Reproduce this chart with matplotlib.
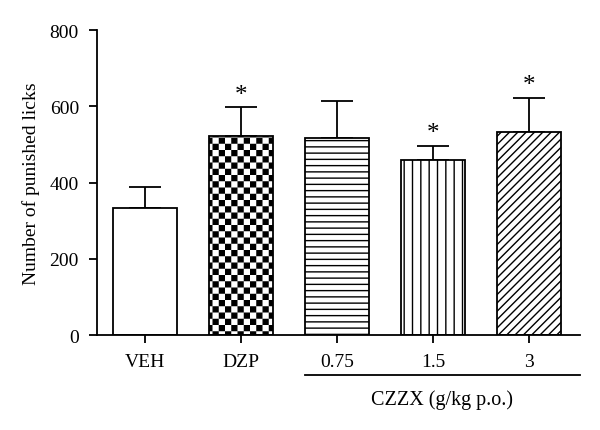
import numpy as np
import matplotlib
matplotlib.use("Agg")
import matplotlib.pyplot as plt
import matplotlib.hatch as mhatch
from matplotlib.path import Path
from matplotlib.transforms import blended_transform_factory

# ---- data ----
categories = ["VEH", "DZP", "0.75", "1.5", "3"]
means = [334, 522, 517, 458, 533]
sem = [53, 75, 98, 38, 88]
significant = [False, True, False, True, True]
group_label = "CZZX (g/kg p.o.)"
ylabel = "Number of punished licks"
yticks = [0, 200, 400, 600, 800]

# ---- custom hatches (checkerboard replaces '*', denser horizontal lines) ----
HATCH_LW = 1.0  # points


class Checker(mhatch.HatchPatternBase):
    def __init__(self, hatch, density):
        self.n = 16 if '*' in hatch else 0
        self.num_vertices = (self.n * self.n // 2) * 5 if self.n else 0

    def set_vertices_and_codes(self, vertices, codes):
        n = self.n
        a = 1.0 / n
        inset = (HATCH_LW * 100 / 72) / 2 / 100.0
        verts = []
        cds = []
        for i in range(n):
            for j in range(n):
                if (i + j) % 2 == 0:
                    x0, y0 = i * a + inset, j * a + inset
                    x1, y1 = (i + 1) * a - inset, (j + 1) * a - inset
                    verts += [(x0, y0), (x1, y0), (x1, y1), (x0, y1), (x0, y0)]
                    cds += [Path.MOVETO, Path.LINETO, Path.LINETO,
                            Path.LINETO, Path.CLOSEPOLY]
        vertices[:] = np.array(verts)
        codes[:] = np.array(cds)


class HLines(mhatch.HorizontalHatch):
    def __init__(self, hatch, density):
        self.num_lines = 16 if '-' in hatch else 0
        self.num_vertices = self.num_lines * 2


new_types = []
for t in mhatch._hatch_types:
    if t is mhatch.Stars:
        new_types.append(Checker)
    elif t is mhatch.HorizontalHatch:
        new_types.append(HLines)
    else:
        new_types.append(t)
mhatch._hatch_types = new_types

plt.rcParams['font.family'] = ['Liberation Serif', 'DejaVu Serif']
plt.rcParams['hatch.linewidth'] = HATCH_LW
plt.rcParams['hatch.color'] = 'black'

hatches = ['', '*', '-', '||', '////']
LW = 1.3

fig = plt.figure(figsize=(6, 4.31), dpi=100)
ax = fig.add_axes([0.1617, 0.2204, 0.805, 0.7076])

x = np.arange(len(categories))
ax.bar(x, means, width=0.667, color='white', edgecolor='black',
       linewidth=LW, hatch=hatches, zorder=2)
ax.errorbar(x, means, yerr=[np.zeros(len(sem)), sem], fmt='none',
            ecolor='black', elinewidth=LW, capsize=11.5, capthick=LW,
            zorder=1)

for xi, m, s, sig in zip(x, means, sem, significant):
    if sig:
        ax.text(xi, m + s + 5, '*', ha='center', va='bottom', fontsize=18)

ax.set_xlim(-0.5, 4.53)
ax.set_ylim(0, 800)
ax.set_yticks(yticks)
ax.set_xticks(x)
ax.set_xticklabels(categories)
ax.set_ylabel(ylabel, fontsize=14, labelpad=7)
ax.tick_params(axis='both', labelsize=14, length=6, width=LW,
               direction='out', pad=7)
for side in ['top', 'right']:
    ax.spines[side].set_visible(False)
for side in ['left', 'bottom']:
    ax.spines[side].set_linewidth(LW)

trans = blended_transform_factory(ax.transData, ax.transAxes)
ax.plot([2 - 0.333, 4.53], [-0.131, -0.131], transform=trans,
        color='black', linewidth=LW, clip_on=False)
ax.text(3.09, -0.21, group_label, transform=trans, ha='center',
        va='center', fontsize=14.5)

fig.savefig('out.png', dpi=100)
